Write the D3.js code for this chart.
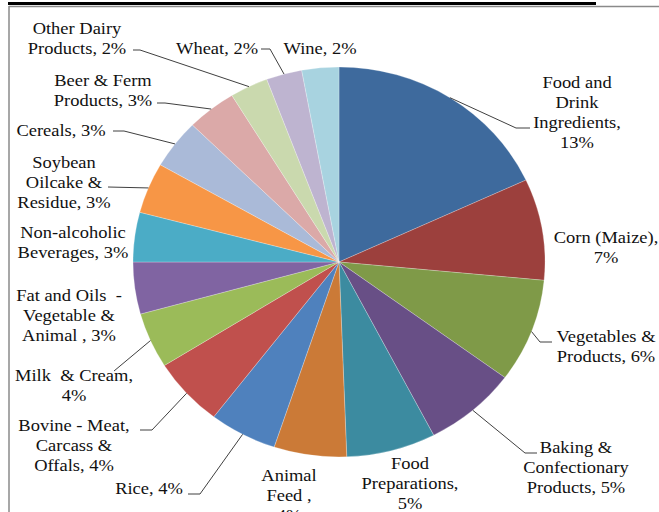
<!DOCTYPE html>
<html>
<head>
<meta charset="utf-8">
<script src="https://cdn.jsdelivr.net/npm/d3@7"></script>
<style>
  html, body { margin: 0; padding: 0; background: #fff; }
  svg { display: block; }
  text.lbl { font-family: "Liberation Serif", "Times New Roman", Times, "DejaVu Serif", serif; }
</style>
</head>
<body>
<script>
// ---- data ----
const categories = [
  "Food and Drink Ingredients", "Corn (Maize)", "Vegetables & Products",
  "Baking & Confectionary Products", "Food Preparations", "Animal Feed",
  "Rice", "Bovine - Meat, Carcass & Offals", "Milk & Cream",
  "Fat and Oils - Vegetable & Animal", "Non-alcoholic Beverages",
  "Soybean Oilcake & Residue", "Cereals", "Beer & Ferm Products",
  "Other Dairy Products", "Wheat", "Wine"
];
// slice sizes (share of the drawn pie)
const shares = [18.1, 8.4, 8.6, 7.3, 7.0, 5.7, 5.3, 5.7, 4.6, 4.3, 4.1, 4.2, 4.1, 3.9, 3.0, 2.8, 2.9];
// percentages printed in the labels
const labelPercents = ["13%", "7%", "6%", "5%", "5%", "4%", "4%", "4%", "4%", "3%", "3%", "3%", "3%", "3%", "2%", "2%", "2%"];
// label text broken into lines as in the reference
const labelLines = [
  ["Food and", "Drink", "Ingredients,", "13%"],
  ["Corn (Maize),", "7%"],
  ["Vegetables &", "Products, 6%"],
  ["Baking &", "Confectionary", "Products, 5%"],
  ["Food", "Preparations,", "5%"],
  ["Animal", "Feed ,", "4%"],
  ["Rice, 4%"],
  ["Bovine - Meat,", "Carcass &", "Offals, 4%"],
  ["Milk  & Cream,", "4%"],
  ["Fat and Oils  -", "Vegetable &", "Animal , 3%"],
  ["Non-alcoholic", "Beverages, 3%"],
  ["Soybean", "Oilcake &", "Residue, 3%"],
  ["Cereals, 3%"],
  ["Beer & Ferm", "Products, 3%"],
  ["Other Dairy", "Products, 2%"],
  ["Wheat, 2%"],
  ["Wine, 2%"]
];

// ---- styles / layout ----
const colors = [
  "#3E6A9D", "#9C403D", "#7F9A48", "#684F86", "#3C8BA0", "#CB7A37",
  "#4F81BD", "#C0504D", "#9BBB59", "#8064A2", "#4BACC6", "#F79646",
  "#AABAD8", "#DBA9A8", "#CAD9AE", "#BEB4D0", "#A8D3E0"
];
const W = 659, H = 512;
const cx = 339, cy = 262, R = 206, yScale = 0.9466;
const lineStep = 20;
const fontSize = 17.5, stretch = 1.056;

// label centre x and first-line centre y (screen pixels)
const labelPos = [
  [577, 82], [606, 237], [606, 336], [576, 447], [410, 463], [289, 475],
  [149, 488], [74, 425], [74, 375], [69, 295], [73, 232], [64, 162],
  [61, 130], [103, 80], [77, 28], [217, 48], [320, 48]
];
// leader line points near the label (null = no leader); the end on the pie is computed
const leaderPts = [
  [[530, 128], [516, 128]], null, [[552, 342], [540, 342]], [[537, 453], [525, 453]],
  null, null, [[188, 494], [200, 494]], [[140, 430], [152, 430]], [[114, 371]],
  null, null, [[108, 187]], [[113, 131], [124, 131]], [[157, 103], [165, 103]],
  [[133, 50], [140, 50]], [[261, 49], [270, 49]], null
];

const svg = d3.select("body").append("svg")
  .attr("width", W).attr("height", H);

svg.append("rect").attr("width", W).attr("height", H).attr("fill", "#fff");

// frame & cut-off title underline
svg.append("line").attr("x1", 8).attr("y1", 3.5).attr("x2", 596).attr("y2", 3.5)
  .attr("stroke", "#000").attr("stroke-width", 3);
svg.append("line").attr("x1", 9).attr("y1", 6.5).attr("x2", W).attr("y2", 6.5)
  .attr("stroke", "#8a8a8a").attr("stroke-width", 1.5);
svg.append("line").attr("x1", 9).attr("y1", 6).attr("x2", 9).attr("y2", H)
  .attr("stroke", "#8a8a8a").attr("stroke-width", 1.5);

const pie = d3.pie().sort(null).value(d => d);
const arcs = pie(shares);
const arc = d3.arc().innerRadius(0).outerRadius(R);

const g = svg.append("g")
  .attr("transform", `translate(${cx},${cy}) scale(1,${yScale})`);

g.selectAll("path.slice").data(arcs).enter().append("path")
  .attr("class", "slice")
  .attr("d", arc)
  .attr("fill", (d, i) => colors[i])
  .attr("stroke", "#ffffff")
  .attr("stroke-opacity", 0.5)
  .attr("stroke-width", 0.5);

// leader lines
const edgePoint = d => {
  const a = (d.startAngle + d.endAngle) / 2;
  return [cx + R * Math.sin(a), cy - R * Math.cos(a) * yScale];
};
const lineGen = d3.line();
arcs.forEach((d, i) => {
  if (!leaderPts[i]) return;
  const pts = leaderPts[i].concat([edgePoint(d)]);
  svg.append("path")
    .attr("d", lineGen(pts))
    .attr("fill", "none")
    .attr("stroke", "#404040")
    .attr("stroke-width", 1);
});

// labels
labelLines.forEach((lines, i) => {
  const [lx, ly] = labelPos[i];
  lines.forEach((t, k) => {
    svg.append("text")
      .attr("class", "lbl")
      .attr("transform", `translate(${lx},${ly + k * lineStep + 6}) scale(${stretch},1)`)
      .attr("text-anchor", "middle")
      .style("font-size", fontSize + "px")
      .attr("fill", "#111")
      .style("white-space", "pre")
      .text(t);
  });
});
</script>
</body>
</html>
